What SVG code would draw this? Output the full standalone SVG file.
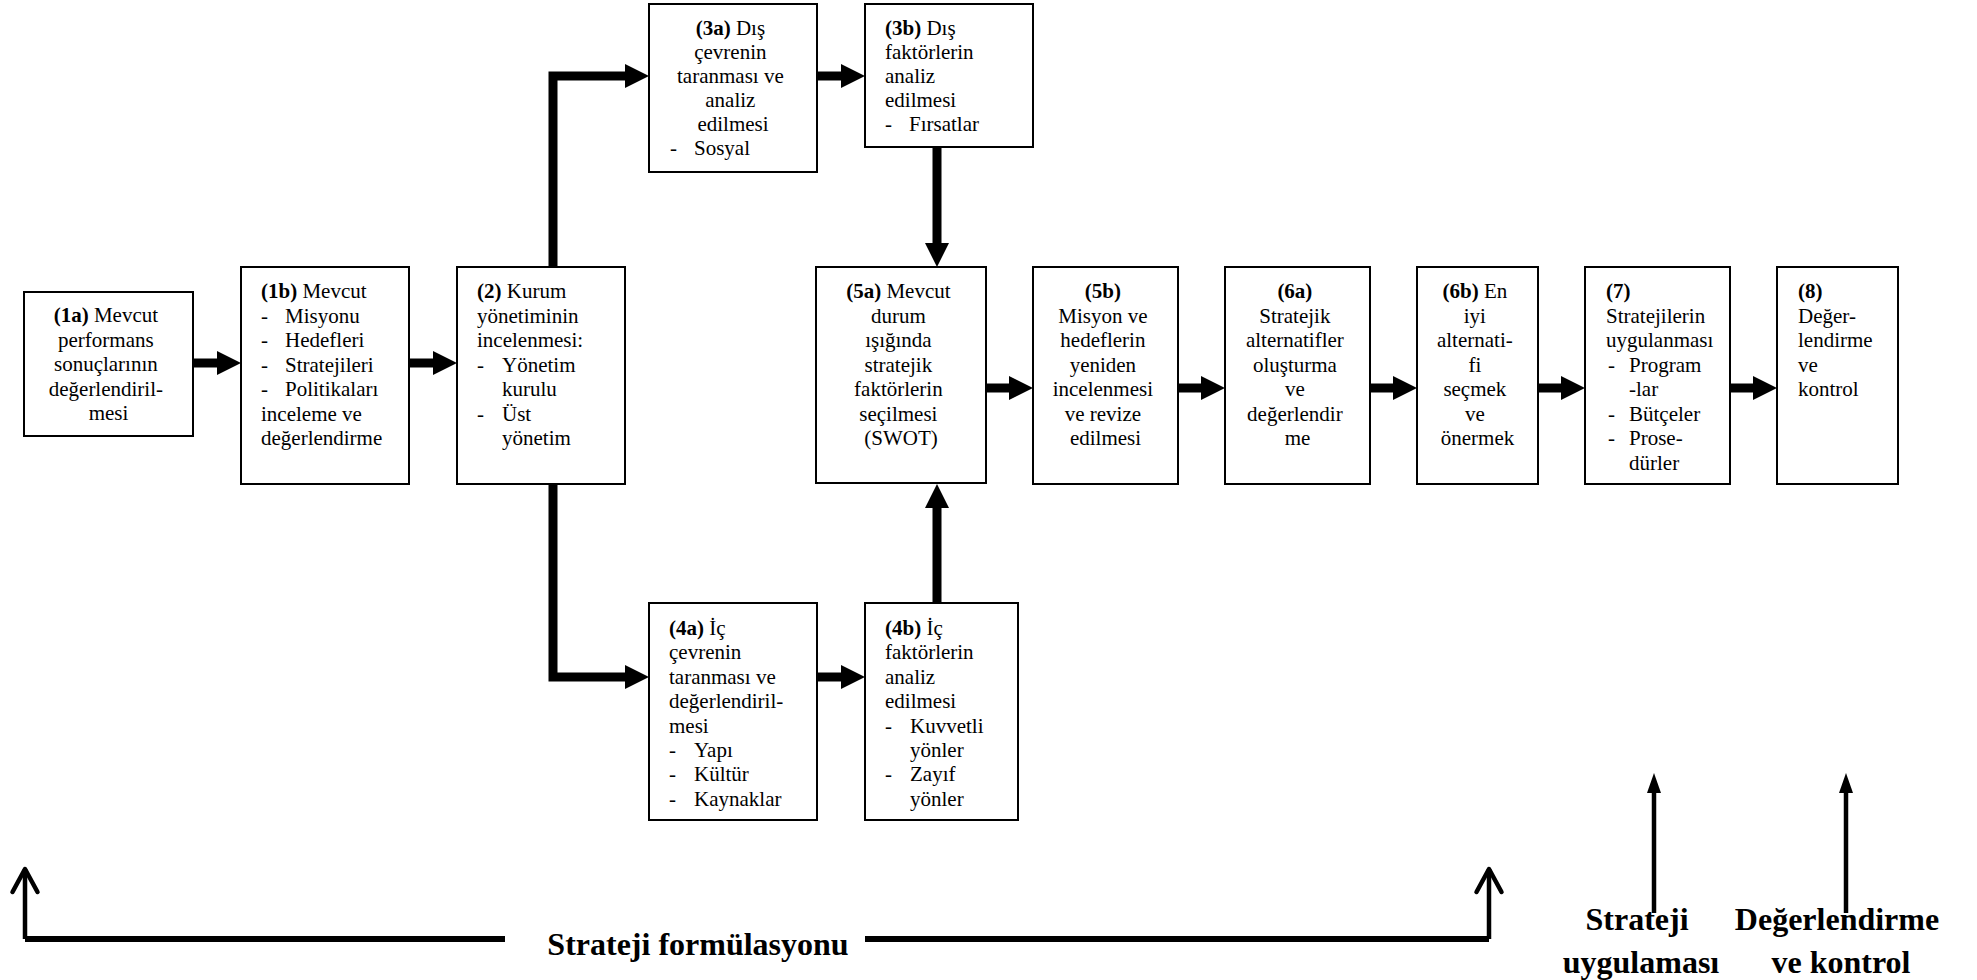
<svg xmlns="http://www.w3.org/2000/svg" width="1977" height="980" viewBox="0 0 1977 980">
  <style>
    .box { fill: #ffffff; stroke: #000000; stroke-width: 2; }
    .t { font-family: 'Liberation Serif', 'Times New Roman', Times, 'DejaVu Serif', serif; font-size: 21px; fill: #000000; }
    .c { text-anchor: middle; }
    .b { font-weight: bold; }
    .fat { fill: none; stroke: #000000; stroke-width: 9; stroke-linejoin: miter; }
    .base { fill: none; stroke: #000000; stroke-width: 6; }
    .thin { fill: none; stroke: #000000; stroke-width: 4.5; }
    .lbl { font-family: 'Liberation Serif', 'Times New Roman', Times, 'DejaVu Serif', serif; font-size: 32px; font-weight: bold; fill: #000000; text-anchor: middle; }
  </style>
  <defs>
    <marker id="headFat" markerUnits="userSpaceOnUse" viewBox="0 0 24 24" markerWidth="24" markerHeight="24" refX="0" refY="12" orient="auto">
      <path d="M0,0 L24,12 L0,24 Z" fill="#000000"/>
    </marker>
    <marker id="headOpen" markerUnits="userSpaceOnUse" viewBox="-28 -16 32 32" markerWidth="32" markerHeight="32" refX="0" refY="0" orient="auto">
      <path d="M-23,-12.5 L0,0 L-23,12.5" fill="none" stroke="#000000" stroke-width="4.5" stroke-linecap="round" stroke-linejoin="round"/>
    </marker>
    <marker id="headSlim" markerUnits="userSpaceOnUse" viewBox="0 0 20 14" markerWidth="20" markerHeight="14" refX="0" refY="7" orient="auto">
      <path d="M0,0 L20,7 L0,14 Z" fill="#000000"/>
    </marker>
  </defs>

  <rect width="1977" height="980" fill="#ffffff"/>

  <!-- connectors -->
  <g id="connectors">
    <path class="fat" d="M193,363 H217" marker-end="url(#headFat)"/>
    <path class="fat" d="M409,363 H433" marker-end="url(#headFat)"/>
    <path class="fat" d="M553,267 V76 H625" marker-end="url(#headFat)"/>
    <path class="fat" d="M553,484 V677 H625" marker-end="url(#headFat)"/>
    <path class="fat" d="M817,76 H841" marker-end="url(#headFat)"/>
    <path class="fat" d="M817,677 H841" marker-end="url(#headFat)"/>
    <path class="fat" d="M937,147 V243" marker-end="url(#headFat)"/>
    <path class="fat" d="M937,603 V508" marker-end="url(#headFat)"/>
    <path class="fat" d="M986,388 H1009" marker-end="url(#headFat)"/>
    <path class="fat" d="M1178,388 H1201" marker-end="url(#headFat)"/>
    <path class="fat" d="M1370,388 H1393" marker-end="url(#headFat)"/>
    <path class="fat" d="M1538,388 H1561" marker-end="url(#headFat)"/>
    <path class="fat" d="M1730,388 H1753" marker-end="url(#headFat)"/>

    <!-- phase bracket along the bottom -->
    <path class="base" d="M25,939 H505"/>
    <path class="base" d="M865,939 H1489"/>
    <path class="thin" d="M25,939 V869" marker-end="url(#headOpen)"/>
    <path class="thin" d="M1489,939 V869" marker-end="url(#headOpen)"/>
    <path class="thin" d="M1654,913 V793" marker-end="url(#headSlim)"/>
    <path class="thin" d="M1846,913 V793" marker-end="url(#headSlim)"/>
  </g>

  <g id="n1a">
    <rect class="box" x="24" y="292" width="169" height="144"/>
    <text class="t c">
      <tspan x="108.5" y="322"><tspan class="b">(1a)</tspan> Mevcut</tspan>
      <tspan x="108.5" y="346.5">performans</tspan>
      <tspan x="108.5" y="371">sonuçlarının</tspan>
      <tspan x="108.5" y="395.5">değerlendiril-</tspan>
      <tspan x="108.5" y="420">mesi</tspan>
    </text>
  </g>

  <g id="n1b">
    <rect class="box" x="241" y="267" width="168" height="217"/>
    <text class="t">
      <tspan x="261" y="298"><tspan class="b">(1b)</tspan> Mevcut</tspan>
      <tspan x="261" y="322.5">-</tspan><tspan x="285" y="322.5">Misyonu</tspan>
      <tspan x="261" y="347">-</tspan><tspan x="285" y="347">Hedefleri</tspan>
      <tspan x="261" y="371.5">-</tspan><tspan x="285" y="371.5">Stratejileri</tspan>
      <tspan x="261" y="396">-</tspan><tspan x="285" y="396">Politikaları</tspan>
      <tspan x="261" y="420.5">inceleme ve</tspan>
      <tspan x="261" y="445">değerlendirme</tspan>
    </text>
  </g>

  <g id="n2">
    <rect class="box" x="457" y="267" width="168" height="217"/>
    <text class="t">
      <tspan x="477" y="298"><tspan class="b">(2)</tspan> Kurum</tspan>
      <tspan x="477" y="322.5">yönetiminin</tspan>
      <tspan x="477" y="347">incelenmesi:</tspan>
      <tspan x="477" y="371.5">-</tspan><tspan x="502" y="371.5">Yönetim</tspan>
      <tspan x="502" y="396">kurulu</tspan>
      <tspan x="477" y="420.5">-</tspan><tspan x="502" y="420.5">Üst</tspan>
      <tspan x="502" y="445">yönetim</tspan>
    </text>
  </g>

  <g id="n3a">
    <rect class="box" x="649" y="4" width="168" height="168"/>
    <text class="t c">
      <tspan x="733" y="35"><tspan class="b">(3a)</tspan> Dış</tspan>
      <tspan x="733" y="59">çevrenin</tspan>
      <tspan x="733" y="83">taranması ve</tspan>
      <tspan x="733" y="107">analiz</tspan>
      <tspan x="733" y="131">edilmesi</tspan>
    </text>
    <text class="t">
      <tspan x="670" y="155">-</tspan><tspan x="694" y="155">Sosyal</tspan>
    </text>
  </g>

  <g id="n3b">
    <rect class="box" x="865" y="4" width="168" height="143"/>
    <text class="t">
      <tspan x="885" y="35"><tspan class="b">(3b)</tspan> Dış</tspan>
      <tspan x="885" y="59">faktörlerin</tspan>
      <tspan x="885" y="83">analiz</tspan>
      <tspan x="885" y="107">edilmesi</tspan>
      <tspan x="885" y="131">-</tspan><tspan x="909" y="131">Fırsatlar</tspan>
    </text>
  </g>

  <g id="n4a">
    <rect class="box" x="649" y="603" width="168" height="217"/>
    <text class="t">
      <tspan x="669" y="635"><tspan class="b">(4a)</tspan> İç</tspan>
      <tspan x="669" y="659.4">çevrenin</tspan>
      <tspan x="669" y="683.8">taranması ve</tspan>
      <tspan x="669" y="708.2">değerlendiril-</tspan>
      <tspan x="669" y="732.6">mesi</tspan>
      <tspan x="669" y="757">-</tspan><tspan x="694" y="757">Yapı</tspan>
      <tspan x="669" y="781.4">-</tspan><tspan x="694" y="781.4">Kültür</tspan>
      <tspan x="669" y="805.8">-</tspan><tspan x="694" y="805.8">Kaynaklar</tspan>
    </text>
  </g>

  <g id="n4b">
    <rect class="box" x="865" y="603" width="153" height="217"/>
    <text class="t">
      <tspan x="885" y="635"><tspan class="b">(4b)</tspan> İç</tspan>
      <tspan x="885" y="659.4">faktörlerin</tspan>
      <tspan x="885" y="683.8">analiz</tspan>
      <tspan x="885" y="708.2">edilmesi</tspan>
      <tspan x="885" y="732.6">-</tspan><tspan x="910" y="732.6">Kuvvetli</tspan>
      <tspan x="910" y="757">yönler</tspan>
      <tspan x="885" y="781.4">-</tspan><tspan x="910" y="781.4">Zayıf</tspan>
      <tspan x="910" y="805.8">yönler</tspan>
    </text>
  </g>

  <g id="n5a">
    <rect class="box" x="816" y="267" width="170" height="216"/>
    <text class="t c">
      <tspan x="901" y="298"><tspan class="b">(5a)</tspan> Mevcut</tspan>
      <tspan x="901" y="322.5">durum</tspan>
      <tspan x="901" y="347">ışığında</tspan>
      <tspan x="901" y="371.5">stratejik</tspan>
      <tspan x="901" y="396">faktörlerin</tspan>
      <tspan x="901" y="420.5">seçilmesi</tspan>
      <tspan x="901" y="445">(SWOT)</tspan>
    </text>
  </g>

  <g id="n5b">
    <rect class="box" x="1033" y="267" width="145" height="217"/>
    <text class="t c">
      <tspan x="1105.5" y="298" class="b">(5b)</tspan>
      <tspan x="1105.5" y="322.5">Misyon ve</tspan>
      <tspan x="1105.5" y="347">hedeflerin</tspan>
      <tspan x="1105.5" y="371.5">yeniden</tspan>
      <tspan x="1105.5" y="396">incelenmesi</tspan>
      <tspan x="1105.5" y="420.5">ve revize</tspan>
      <tspan x="1105.5" y="445">edilmesi</tspan>
    </text>
  </g>

  <g id="n6a">
    <rect class="box" x="1225" y="267" width="145" height="217"/>
    <text class="t c">
      <tspan x="1297.5" y="298" class="b">(6a)</tspan>
      <tspan x="1297.5" y="322.5">Stratejik</tspan>
      <tspan x="1297.5" y="347">alternatifler</tspan>
      <tspan x="1297.5" y="371.5">oluşturma</tspan>
      <tspan x="1297.5" y="396">ve</tspan>
      <tspan x="1297.5" y="420.5">değerlendir</tspan>
      <tspan x="1297.5" y="445">me</tspan>
    </text>
  </g>

  <g id="n6b">
    <rect class="box" x="1417" y="267" width="121" height="217"/>
    <text class="t c">
      <tspan x="1477.5" y="298"><tspan class="b">(6b)</tspan> En</tspan>
      <tspan x="1477.5" y="322.5">iyi</tspan>
      <tspan x="1477.5" y="347">alternati-</tspan>
      <tspan x="1477.5" y="371.5">fi</tspan>
      <tspan x="1477.5" y="396">seçmek</tspan>
      <tspan x="1477.5" y="420.5">ve</tspan>
      <tspan x="1477.5" y="445">önermek</tspan>
    </text>
  </g>

  <g id="n7">
    <rect class="box" x="1585" y="267" width="145" height="217"/>
    <text class="t">
      <tspan x="1606" y="298" class="b">(7)</tspan>
      <tspan x="1606" y="322.5">Stratejilerin</tspan>
      <tspan x="1606" y="347">uygulanması</tspan>
      <tspan x="1608" y="371.5">-</tspan><tspan x="1629" y="371.5">Program</tspan>
      <tspan x="1629" y="396">-lar</tspan>
      <tspan x="1608" y="420.5">-</tspan><tspan x="1629" y="420.5">Bütçeler</tspan>
      <tspan x="1608" y="445">-</tspan><tspan x="1629" y="445">Prose-</tspan>
      <tspan x="1629" y="469.5">dürler</tspan>
    </text>
  </g>

  <g id="n8">
    <rect class="box" x="1777" y="267" width="121" height="217"/>
    <text class="t">
      <tspan x="1798" y="298" class="b">(8)</tspan>
      <tspan x="1798" y="322.5">Değer-</tspan>
      <tspan x="1798" y="347">lendirme</tspan>
      <tspan x="1798" y="371.5">ve</tspan>
      <tspan x="1798" y="396">kontrol</tspan>
    </text>
  </g>

  <!-- phase labels -->
  <g id="phase-formulation">
    <text class="lbl" x="698" y="955">Strateji formülasyonu</text>
  </g>
  <g id="phase-implementation">
    <text class="lbl">
      <tspan x="1641" y="930">Strateji</tspan>
      <tspan x="1641" y="973">uygulaması</tspan>
    </text>
  </g>
  <g id="phase-evaluation">
    <text class="lbl">
      <tspan x="1841" y="930">Değerlendirme</tspan>
      <tspan x="1841" y="973">ve kontrol</tspan>
    </text>
  </g>
</svg>
